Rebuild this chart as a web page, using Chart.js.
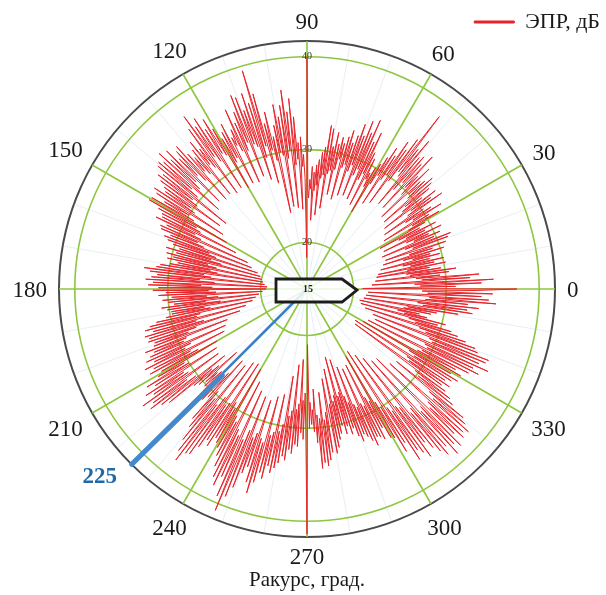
<!DOCTYPE html>
<html>
<head>
<meta charset="utf-8">
<script src="https://cdn.jsdelivr.net/npm/chart.js@4.4.1/dist/chart.umd.min.js"></script>
<style>
  html, body { margin: 0; padding: 0; background: #ffffff; }
  canvas { display: block; }
</style>
</head>
<body>
<canvas id="c" width="606" height="595"></canvas>
<script>
// ЭПР, дБ, one value every 0.5° of aspect angle (index k -> angle k/2, 0..359.5)
const angleStep = 0.5;
const eprDb = [
  // 0..9.5
  37.6, 21.0, 31.0, 27.2, 33.8, 26.6, 35.1, 22.0, 32.6, 27.4,
  33.6, 26.8, 29.4, 22.4, 30.4, 26.2, 31.2, 25.8, 29.6, 22.6,
  // 10..19.5
  28.4, 26.0, 30.2, 22.8, 29.0, 26.4, 30.1, 25.6, 28.6, 23.2,
  29.8, 26.8, 28.8, 25.8, 30.4, 23.6, 29.2, 26.6, 30.8, 27.0,
  // 20..29.5
  24.0, 31.2, 27.2, 31.6, 26.4, 29.8, 23.8, 30.6, 27.6, 29.4,
  26.8, 31.0, 24.2, 29.2, 27.0, 30.6, 26.2, 28.8, 24.0, 29.6,
  // 30..39.5
  27.6, 31.5, 28.2, 30.4, 24.8, 32.1, 28.6, 31.0, 27.8, 30.2,
  25.2, 32.8, 28.4, 31.6, 29.0, 32.4, 25.6, 30.8, 28.2, 32.0,
  // 40..49.5
  28.8, 32.6, 26.0, 33.0, 29.6, 32.2, 30.0, 31.8, 26.2, 33.4,
  29.4, 32.0, 30.2, 34.6, 27.0, 33.2, 30.4, 34.0, 29.2, 33.6,
  // 50..59.5
  27.0, 35.6, 30.6, 34.2, 31.0, 38.4, 29.6, 35.0, 26.5, 33.4,
  30.0, 34.2, 29.2, 32.2, 26.0, 33.0, 29.4, 31.6, 28.2, 30.6,
  // 60..69.5
  24.6, 30.0, 27.6, 29.2, 28.4, 30.8, 25.2, 31.4, 28.8, 33.6,
  28.0, 32.4, 25.6, 34.8, 29.0, 33.2, 28.2, 34.4, 25.8, 32.6,
  // 70..79.5
  29.2, 33.8, 28.4, 32.4, 25.6, 31.5, 29.0, 32.8, 28.6, 32.0,
  25.0, 31.2, 29.4, 31.8, 28.2, 31.0, 25.4, 32.2, 28.0, 30.6,
  // 80..89.5
  27.6, 32.5, 23.8, 32.8, 27.4, 30.4, 27.0, 29.8, 23.0, 29.0,
  26.2, 28.4, 25.6, 27.6, 22.4, 28.2, 25.8, 26.8, 24.8, 25.6,
  // 90..99.5
  40.0, 18.4, 27.0, 29.5, 28.2, 31.4, 23.6, 30.8, 29.0, 33.6,
  28.4, 35.6, 23.8, 34.2, 30.0, 36.6, 29.2, 35.0, 24.0, 33.8,
  // 100..109.5
  29.6, 35.2, 30.0, 33.0, 23.4, 31.8, 29.2, 34.6, 30.4, 33.4,
  26.8, 36.8, 31.0, 39.5, 29.8, 36.0, 27.4, 37.2, 31.2, 35.4,
  // 110..119.5
  31.6, 37.0, 28.0, 37.4, 32.0, 35.6, 31.2, 34.5, 27.6, 36.2,
  31.4, 34.0, 32.2, 33.2, 27.8, 35.0, 31.0, 34.2, 30.6, 33.6,
  // 120..129.5
  27.6, 35.0, 31.8, 36.4, 32.2, 35.4, 28.0, 37.0, 31.6, 36.2,
  32.4, 37.8, 27.8, 36.4, 31.4, 34.0, 32.0, 35.2, 28.2, 34.4,
  // 130..139.5
  31.2, 33.6, 31.8, 34.4, 28.0, 35.8, 31.0, 35.4, 32.0, 34.6,
  28.4, 36.2, 31.6, 35.2, 30.8, 36.6, 27.8, 35.6, 31.4, 36.0,
  // 140..149.5
  30.4, 35.8, 26.2, 34.8, 30.6, 35.2, 29.8, 34.6, 26.6, 33.9,
  30.2, 33.5, 29.6, 34.7, 25.8, 34.2, 30.0, 33.0, 29.2, 34.4,
  // 150..159.5
  25.0, 34.5, 28.6, 33.2, 28.0, 32.6, 23.6, 32.4, 28.4, 33.0,
  27.6, 31.6, 22.0, 32.2, 27.8, 32.0, 27.0, 30.8, 21.4, 31.4,
  // 160..169.5
  26.2, 30.9, 25.4, 30.2, 20.6, 29.4, 25.8, 30.8, 24.6, 29.6,
  20.2, 30.6, 26.0, 29.8, 25.0, 30.4, 20.0, 29.2, 25.6, 30.0,
  // 170..179.5
  24.8, 31.0, 19.8, 31.4, 26.2, 32.7, 25.4, 32.0, 19.6, 31.2,
  26.6, 31.8, 25.0, 32.4, 19.3, 31.6, 26.4, 32.1, 25.2, 31.0,
  // 180..189.5
  19.4, 31.6, 25.6, 30.2, 24.8, 31.0, 19.8, 29.6, 25.8, 30.6,
  24.6, 30.0, 20.2, 29.4, 26.0, 30.8, 24.4, 30.2, 20.6, 29.8,
  // 190..199.5
  26.2, 29.8, 25.6, 30.5, 21.0, 31.6, 26.8, 32.4, 27.2, 33.0,
  21.8, 32.2, 27.4, 33.2, 26.6, 32.8, 22.6, 33.0, 27.6, 32.4,
  // 200..209.5
  28.6, 32.6, 24.2, 33.7, 29.0, 32.8, 29.4, 33.4, 24.6, 34.0,
  28.8, 33.2, 29.6, 34.5, 25.0, 33.6, 29.2, 34.2, 28.4, 33.0,
  // 210..219.5
  26.2, 33.6, 30.4, 35.2, 30.0, 34.4, 26.6, 35.8, 31.0, 35.0,
  30.6, 36.7, 26.8, 35.6, 31.2, 36.2, 30.2, 35.0, 26.4, 34.2,
  // 220..229.5
  28.4, 31.0, 27.6, 30.5, 25.2, 29.8, 28.2, 30.2, 27.8, 31.2,
  25.0, 30.4, 28.6, 31.4, 27.4, 30.8, 25.4, 33.6, 29.6, 34.5,
  // 230..239.5
  30.4, 36.0, 25.6, 37.2, 30.8, 38.2, 29.6, 37.0, 24.8, 36.8,
  30.2, 35.6, 29.8, 34.5, 24.6, 35.0, 29.4, 33.8, 30.0, 34.2,
  // 240..249.5
  25.0, 34.6, 30.6, 35.4, 31.2, 36.5, 26.2, 37.6, 31.8, 38.4,
  32.4, 37.2, 27.0, 39.3, 32.6, 40.8, 31.4, 39.0, 27.4, 37.8,
  // 250..259.5
  32.0, 36.0, 31.4, 35.2, 27.6, 36.8, 31.8, 37.9, 32.2, 36.6,
  27.0, 35.4, 31.2, 36.0, 30.8, 34.5, 26.6, 35.2, 30.6, 34.6,
  // 260..269.5
  29.8, 34.0, 24.5, 33.2, 28.8, 33.6, 28.2, 32.4, 23.2, 32.8,
  28.0, 31.8, 27.4, 32.0, 22.6, 30.5, 27.0, 31.2, 26.2, 30.0,
  // 270..279.5
  41.4, 21.0, 30.0, 27.2, 29.6, 28.0, 30.4, 25.8, 31.6, 28.6,
  34.4, 29.0, 33.8, 26.2, 34.2, 29.2, 33.6, 28.4, 32.8, 24.8,
  // 280..289.5
  28.2, 33.0, 27.6, 32.4, 23.8, 31.6, 27.4, 31.0, 26.8, 30.2,
  22.6, 31.2, 27.0, 30.4, 26.6, 31.4, 23.0, 30.8, 27.2, 31.8,
  // 290..299.5
  28.0, 32.5, 24.0, 31.8, 28.4, 32.2, 28.8, 32.8, 24.4, 33.5,
  28.6, 32.6, 29.0, 32.8, 24.2, 33.2, 28.2, 32.0, 28.8, 33.4,
  // 300..309.5
  23.4, 33.6, 29.2, 35.5, 30.0, 34.6, 23.0, 37.0, 30.4, 36.0,
  31.0, 36.6, 23.8, 37.4, 30.8, 35.8, 31.2, 36.8, 24.6, 37.6,
  // 310..319.5
  32.4, 38.4, 32.0, 37.6, 25.4, 39.0, 33.0, 38.0, 32.6, 38.6,
  25.6, 37.2, 33.4, 38.2, 32.8, 37.8, 27.0, 38.2, 33.0, 37.4,
  // 320..329.5
  32.2, 36.8, 27.4, 35.0, 30.2, 34.4, 29.6, 33.5, 21.4, 32.8,
  28.4, 33.6, 28.0, 32.8, 21.2, 33.4, 28.6, 34.0, 27.8, 33.0,
  // 330..339.5
  22.0, 34.0, 28.6, 33.2, 29.0, 34.6, 22.4, 35.6, 29.4, 34.8,
  29.0, 36.4, 23.0, 35.2, 29.6, 35.8, 29.2, 36.0, 22.6, 34.6,
  // 340..349.5
  28.6, 34.2, 27.8, 33.0, 21.6, 32.0, 27.2, 31.2, 26.4, 29.6,
  21.0, 30.4, 25.8, 28.3, 25.0, 27.4, 20.8, 28.6, 25.6, 29.2,
  // 350..359.5
  26.0, 31.5, 21.2, 33.0, 27.6, 32.4, 27.0, 33.6, 21.4, 32.4,
  27.8, 35.4, 28.2, 34.6, 21.6, 33.8, 28.0, 35.0, 27.4, 33.2
];
const radialTicks = [15, 20, 30, 40];          // radial tick labels (dB)
const outerLimit = 41.7;                         // outer (black) circle
const angleTicks = [0, 30, 60, 90, 120, 150, 180, 210, 240, 270, 300, 330];
const markedAngle = 225;                         // highlighted aspect (blue)
const markedWideFrom = 28;                       // the blue ray looks wider beyond this level
const seriesLabel = 'ЭПР, дБ';
const axisTitle = 'Ракурс, град.';

// radar index i runs clockwise from the top; the plot has 0° at the right, counter-clockwise
const N = eprDb.length;
const wrap = k => ((k % N) + N) % N;
const sampleOfIndex = i => wrap(Math.round(90 / angleStep) - i);
const angleOfIndex = i => sampleOfIndex(i) * angleStep;
const indexOfAngle = a => wrap(Math.round(90 / angleStep) - Math.round(a / angleStep));
const categories = eprDb.map((_, i) => String(angleOfIndex(i)));
const redData = eprDb.map((_, i) => eprDb[sampleOfIndex(i)]);
const blueData = eprDb.map(() => null);
blueData[indexOfAngle(markedAngle)] = outerLimit;
blueData[indexOfAngle(markedAngle - angleStep)] = radialTicks[0];
const blueWide = eprDb.map(() => null);
blueWide[indexOfAngle(markedAngle)] = outerLimit;
blueWide[indexOfAngle(markedAngle + angleStep)] = markedWideFrom;

const GREEN = '#8dc63f';
const SERIF = '"Liberation Serif", "Times New Roman", serif';

const decor = {
  id: 'decor',
  afterDatasetsDraw(chart) {
    const s = chart.scales.r, ctx = chart.ctx;
    const cx = s.xCenter, cy = s.yCenter;
    ctx.save();
    // ship pictogram in the centre
    ctx.beginPath();
    ctx.moveTo(cx - 31, cy - 10);
    ctx.lineTo(cx + 35, cy - 10);
    ctx.lineTo(cx + 50, cy + 1);
    ctx.lineTo(cx + 35, cy + 13);
    ctx.lineTo(cx - 31, cy + 13);
    ctx.closePath();
    ctx.fillStyle = 'rgba(255,255,255,0.85)';
    ctx.fill();
    ctx.lineWidth = 2.8;
    ctx.strokeStyle = '#1c1c1c';
    ctx.stroke();
    ctx.fillStyle = '#222';
    ctx.font = 'bold 10px ' + SERIF;
    ctx.textAlign = 'center';
    ctx.textBaseline = 'middle';
    ctx.fillText(String(radialTicks[0]), cx + 1, cy);
    ctx.restore();
  },
  afterDraw(chart) {
    const s = chart.scales.r, ctx = chart.ctx;
    ctx.save();
    const size = 23, capH = size * 0.66;
    ctx.font = size + 'px ' + SERIF;
    ctx.fillStyle = '#1a1a1a';
    ctx.textAlign = 'center';
    ctx.textBaseline = 'alphabetic';
    angleTicks.forEach(a => {
      const txt = String(a);
      const w = ctx.measureText(txt).width;
      const rad = a * Math.PI / 180;
      const d = s.drawingArea + 12 + Math.abs(Math.cos(rad)) * w / 2 + Math.abs(Math.sin(rad)) * capH / 2;
      const p = s.getPointPosition(indexOfAngle(a), d);
      ctx.fillText(txt, p.x, p.y + capH / 2);
    });
    // highlighted aspect label
    ctx.font = 'bold ' + size + 'px ' + SERIF;
    ctx.fillStyle = '#1f6aa8';
    const pm = s.getPointPosition(indexOfAngle(markedAngle - 3), s.drawingArea + 31);
    ctx.fillText(String(markedAngle), pm.x, pm.y + capH / 2);
    ctx.restore();
  }
};

new Chart(document.getElementById('c'), {
  type: 'radar',
  data: {
    labels: categories,
    datasets: [
      {
        label: seriesLabel,
        data: redData,
        borderColor: '#e6252b',
        backgroundColor: '#e6252b',
        borderWidth: 1,
        fill: false,
        pointRadius: 0,
        tension: 0,
        order: 3
      },
      {
        label: 'marked',
        data: blueData,
        borderColor: '#3a80c4',
        backgroundColor: '#3a80c4',
        borderWidth: 2.5,
        fill: false,
        pointRadius: 0,
        spanGaps: false,
        order: 2
      },
      {
        label: 'marked-wide',
        data: blueWide,
        borderColor: '#4389cb',
        backgroundColor: '#4389cb',
        borderWidth: 5,
        borderCapStyle: 'round',
        fill: false,
        pointRadius: 0,
        spanGaps: false,
        order: 1
      }
    ]
  },
  options: {
    responsive: false,
    animation: false,
    devicePixelRatio: 1,
    layout: { padding: { left: 8, right: 0, top: 5, bottom: 0 } },
    plugins: {
      legend: {
        position: 'top',
        align: 'end',
        maxHeight: 29,
        labels: {
          filter: item => item.text === seriesLabel,
          boxWidth: 40,
          boxHeight: 2,
          padding: 6,
          color: '#1a1a1a',
          font: { family: SERIF, size: 22 }
        }
      },
      title: {
        display: true,
        position: 'bottom',
        text: axisTitle,
        color: '#1a1a1a',
        font: { family: SERIF, size: 21, weight: 'normal' },
        padding: { top: 23.4, bottom: 2.4 }
      },
      tooltip: { enabled: false }
    },
    scales: {
      r: {
        min: radialTicks[0],
        max: outerLimit,
        startAngle: 0,
        afterBuildTicks: sc => { sc.ticks = radialTicks.concat([outerLimit]).map(v => ({ value: v })); },
        ticks: {
          display: true,
          showLabelBackdrop: false,
          backdropPadding: 2,
          color: '#333',
          font: { family: SERIF, size: 10 },
          callback: v => (radialTicks.includes(v) ? String(v) : '')
        },
        grid: {
          circular: true,
          color: c => (c.tick && c.tick.value >= outerLimit ? '#4a4a4a' : GREEN),
          lineWidth: c => (c.tick && c.tick.value >= outerLimit ? 2 : 1.6)
        },
        angleLines: {
          display: true,
          color: c => (angleOfIndex(c.index) % 30 === 0 ? GREEN : 'rgba(150,190,225,0.25)'),
          lineWidth: c => (angleOfIndex(c.index) % 30 === 0 ? 1.6 : (angleOfIndex(c.index) % 10 === 0 ? 1 : 0))
        },
        pointLabels: { display: false }
      }
    }
  },
  plugins: [decor]
});
</script>
</body>
</html>
